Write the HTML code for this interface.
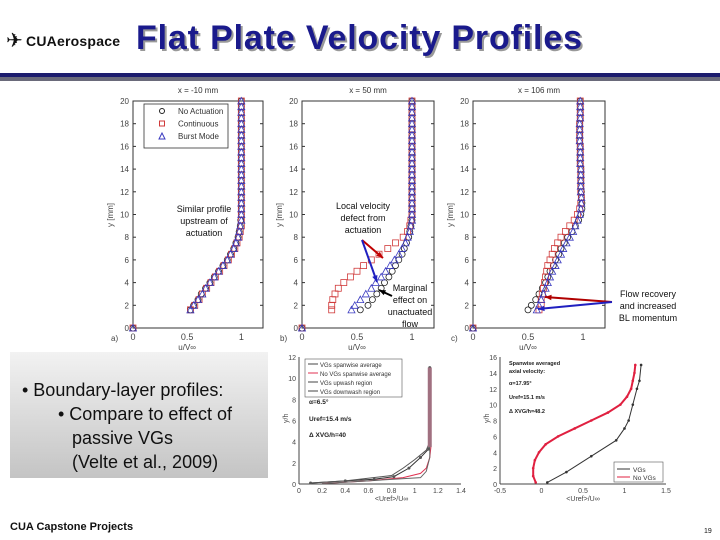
<!DOCTYPE html>
<html><head><meta charset="utf-8"><style>
html,body{margin:0;padding:0;background:#fff;}
svg{display:block;font-family:"Liberation Sans",sans-serif;}
</style></head><body>
<svg id="s" width="720" height="540" viewBox="0 0 720 540" xmlns="http://www.w3.org/2000/svg">
<defs><linearGradient id="g1" x1="0" y1="0" x2="0" y2="1"><stop offset="0" stop-color="#f2f2f2"/><stop offset="1" stop-color="#c4c4c4"/></linearGradient></defs>
<g>
<text x="6" y="47" font-size="20" fill="#111">✈</text>
<text x="26" y="46" font-size="14" font-weight="bold" fill="#111" textLength="94">CUAerospace</text>
<text x="138" y="51" font-size="34" font-weight="bold" fill="#999" textLength="446">Flat Plate Velocity Profiles</text>
<text x="136" y="49" font-size="34" font-weight="bold" fill="#1a1a8c" textLength="446">Flat Plate Velocity Profiles</text>
<rect x="0" y="73" width="720" height="4" fill="#1c1c6e"/>
<rect x="0" y="77" width="720" height="4" fill="#6a6a7a"/>
</g>
<rect x="10" y="352" width="258" height="126" fill="url(#g1)"/>
<g font-size="18" fill="#111">
<text x="22" y="396">• Boundary-layer profiles:</text>
<text x="58" y="420">• Compare to effect of</text>
<text x="72" y="444">passive VGs</text>
<text x="72" y="468">(Velte et al., 2009)</text>
</g>
<text x="10" y="530" font-size="11" font-weight="bold" fill="#111">CUA Capstone Projects</text>
<text x="704" y="533" font-size="7" fill="#111">19</text>
<g id="charts"></g>
</svg>
<script>
// Top profiles: shared y (mm)
const yTop=[1.6,2,2.5,3,3.5,4,4.5,5,5.5,6,6.5,7,7.5,8,8.5,9,9.5,10,10.5,11,11.5,12,12.5,13,13.5,14,14.5,15,15.5,16,16.5,17,17.5,18,18.5,19,19.5,20];
const aNoAct=[.53,.56,.6,.63,.67,.71,.75,.79,.83,.87,.9,.93,.95,.97,.98,.99,.995,1,1,1,1,1,1,1,1,1,1,1,1,1,1,1,1,1,1,1,1,1];
const aCont=[.53,.57,.61,.64,.68,.72,.76,.8,.84,.88,.91,.94,.96,.98,.99,1,1,1,1,1,1,1,1,1,1,1,1,1,1,1,1,1,1,1,1,1,1,1];
const aBurst=[.53,.56,.6,.64,.67,.71,.75,.79,.83,.87,.9,.93,.95,.97,.98,.99,1,1,1,1,1,1,1,1,1,1,1,1,1,1,1,1,1,1,1,1,1,1];
const bNoAct=[.53,.6,.64,.68,.72,.75,.79,.82,.85,.88,.91,.93,.95,.97,.98,.99,1,1,1,1,1,1,1,1,1,1,1,1,1,1,1,1,1,1,1,1,1,1];
const bCont=[.27,.27,.28,.3,.33,.38,.44,.5,.56,.63,.7,.78,.85,.92,.96,.98,.99,1,1,1,1,1,1,1,1,1,1,1,1,1,1,1,1,1,1,1,1,1];
const bBurst=[.45,.48,.53,.58,.63,.67,.72,.76,.8,.84,.88,.91,.94,.96,.98,.99,1,1,1,1,1,1,1,1,1,1,1,1,1,1,1,1,1,1,1,1,1,1];
const cNoAct=[.5,.53,.57,.6,.63,.66,.68,.7,.73,.75,.78,.8,.83,.86,.9,.93,.96,.98,.99,.99,.985,.985,.98,.98,.98,.98,.975,.975,.975,.975,.97,.97,.97,.97,.975,.975,.975,.975];
const cCont=[.6,.62,.62,.63,.64,.65,.66,.67,.68,.7,.72,.74,.77,.8,.84,.88,.92,.95,.97,.98,.985,.98,.98,.98,.98,.98,.975,.975,.975,.975,.97,.97,.97,.97,.975,.975,.975,.975];
const cBurst=[.58,.6,.62,.64,.66,.68,.7,.72,.75,.77,.8,.82,.85,.88,.91,.93,.95,.97,.98,.985,.985,.98,.98,.98,.98,.98,.975,.975,.975,.975,.97,.97,.97,.97,.975,.975,.975,.975];
const topYTicks=[0,2,4,6,8,10,12,14,16,18,20];
const topXTicks=[0,0.5,1];
const topTitles=["x = -10 mm","x = 50 mm","x = 106 mm"];
// Bottom-left (Velte) data
const blXTicks=[0,0.2,0.4,0.6,0.8,1,1.2,1.4];
const blYTicks=[0,2,4,6,8,10,12];
const vgAvgU=[0.1,0.4,0.65,0.82,0.95,1.05,1.12,1.13,1.13,1.13,1.13];
const vgAvgY=[0.1,0.3,0.45,0.7,1.5,2.5,3.3,4,6,9,11];
const noVgU=[0.2,0.6,0.9,1.05,1.1,1.13,1.14,1.14,1.14,1.14];
const noVgY=[0.05,0.3,0.6,1,1.5,2.5,3.5,6,9,11];
const upU=[0.1,0.4,0.8,0.9,1.0,1.1,1.13,1.13];
const upY=[0.1,0.3,0.8,1.5,2.3,3.2,4,11];
const dnU=[0.2,0.6,1.05,1.1,1.13,1.13,1.13];
const dnY=[0.05,0.3,0.6,1.2,2.5,4,11];
// Bottom-right data
const brXTicks=[-0.5,0,0.5,1,1.5];
const brYTicks=[0,2,4,6,8,10,12,14,16];
const brVgU=[0.07,0.3,0.6,0.9,1.0,1.05,1.1,1.15,1.18,1.2];
const brVgY=[0.2,1.5,3.5,5.5,7,8,10,12,13,15];
const brNoU=[-0.07,-0.1,-0.1,-0.08,-0.03,0.05,0.2,0.4,0.6,0.8,0.95,1.03,1.08,1.1,1.12,1.13];
const brNoY=[0.2,1,2,3,4,5,6,7,8,9,10,11,12,13,14,15];

const NS="http://www.w3.org/2000/svg";
const root=document.getElementById('charts');
function mk(tag,attrs,parent){const e=document.createElementNS(NS,tag);for(const k in attrs)e.setAttribute(k,attrs[k]);(parent||root).appendChild(e);return e;}
function lin(d0,d1,r0,r1){return v=>r0+(v-d0)/(d1-d0)*(r1-r0);}

const panels=[{x0:133,x1:263,s:[aNoAct,aCont,aBurst],lab:"a)"},{x0:302,x1:434,s:[bNoAct,bCont,bBurst],lab:"b)"},{x0:473,x1:605,s:[cNoAct,cCont,cBurst],lab:"c)"}];
const cols=["#222","#d03a3a","#3a3ac0"];
panels.forEach((p,pi)=>{
  const g=mk('g',{});
  
  
  const X=lin(0,1.2,p.x0,p.x1),Y=lin(0,20,328,101);
  const fr=mk('rect',{x:p.x0,y:101,width:p.x1-p.x0,height:227,fill:'none',stroke:'#333','stroke-width':1},g);
  
  topYTicks.forEach(t=>{
    const tl=mk('text',{x:p.x0-4,y:Y(t)+3,'font-size':8,fill:'#444','text-anchor':'end'},g);tl.textContent=t;
    
    mk('line',{x1:p.x0,x2:p.x0+3,y1:Y(t),y2:Y(t),stroke:'#333'},g);
    mk('line',{x1:p.x1,x2:p.x1-3,y1:Y(t),y2:Y(t),stroke:'#333'},g);
  });
  topXTicks.forEach(t=>{
    const tl=mk('text',{x:X(t),y:340,'font-size':9,fill:'#444','text-anchor':'middle'},g);tl.textContent=t;
    
  });
  const tt=mk('text',{x:(p.x0+p.x1)/2,y:93,'font-size':8,fill:'#333','text-anchor':'middle'},g);tt.textContent=topTitles[pi];
  
  const xl=mk('text',{x:X(0.5),y:350,'font-size':8,fill:'#444','text-anchor':'middle'},g);xl.textContent="u/V∞";
  
  const yl=mk('text',{x:0,y:0,'font-size':8,fill:'#444','text-anchor':'middle',transform:`translate(${p.x0-20},215) rotate(-90)`},g);yl.textContent="y [mm]";
  
  const pl=mk('text',{x:p.x0-22,y:341,'font-size':8,fill:'#444'},g);pl.textContent=p.lab;
  
  p.s.forEach((ser,si)=>{
    const pts=[[0,0]].concat(ser.map((u,i)=>[u,yTop[i]]));
    pts.forEach(([u,y])=>{
      const cx=X(u),cy=Y(y);let m;
      if(si===0)m=mk('circle',{cx,cy,r:3,fill:'none',stroke:cols[0],'stroke-width':0.8},g);
      else if(si===1)m=mk('rect',{x:cx-3,y:cy-3,width:6,height:6,fill:'none',stroke:cols[1],'stroke-width':0.8},g);
      else m=mk('polygon',{points:`${cx},${cy-3.5} ${cx-3.5},${cy+3} ${cx+3.5},${cy+3}`,fill:'none',stroke:cols[2],'stroke-width':0.8},g);
      
    });
  });
});
// legend in panel a
{
  const g=mk('g',{});
  mk('rect',{x:144,y:104,width:84,height:44,fill:'#fff',stroke:'#333','stroke-width':0.8},g);
  const names=["No Actuation","Continuous","Burst Mode"];
  names.forEach((n,i)=>{
    const y=114+i*12.5,cx=162;
    if(i===0)mk('circle',{cx,cy:y-3,r:2.5,fill:'none',stroke:cols[0]},g);
    else if(i===1)mk('rect',{x:cx-2.5,y:y-5.5,width:5,height:5,fill:'none',stroke:cols[1]},g);
    else mk('polygon',{points:`${cx},${y-6} ${cx-3},${y} ${cx+3},${y}`,fill:'none',stroke:cols[2]},g);
    const t=mk('text',{x:178,y,'font-size':8,fill:'#333'},g);t.textContent=n;
    
  });
}
// annotations
function txt(x,y,s,size,name,anchor){const t=mk('text',{x,y,'font-size':size||8,fill:'#111','text-anchor':anchor||'middle'});t.textContent=s;return t;}
function arrow(x1,y1,x2,y2,c,name){const g=mk('g',{});
  mk('line',{x1,y1,x2,y2,stroke:c,'stroke-width':2},g);const a=Math.atan2(y2-y1,x2-x1),L=7;
  mk('polygon',{points:`${x2},${y2} ${x2-L*Math.cos(a-0.4)},${y2-L*Math.sin(a-0.4)} ${x2-L*Math.cos(a+0.4)},${y2-L*Math.sin(a+0.4)}`,fill:c},g);}
txt(204,212,"Similar profile",9,'annotation-similar');txt(204,224,"upstream of",9,'annotation-similar');txt(204,236,"actuation",9,'annotation-similar');
txt(363,209,"Local velocity",9,'annotation-defect');txt(363,221,"defect from",9,'annotation-defect');txt(363,233,"actuation",9,'annotation-defect');
arrow(362,240,383,258,'#c00000','arrow-red-defect');arrow(362,240,377,282,'#2020c0','arrow-blue-defect');
txt(410,291,"Marginal",9,'annotation-marginal');txt(410,303,"effect on",9,'annotation-marginal');txt(410,315,"unactuated",9,'annotation-marginal');txt(410,327,"flow",9,'annotation-marginal');
arrow(392,296,379,290,'#000','arrow-black-marginal');
txt(648,297,"Flow recovery",9,'annotation-recovery');txt(648,309,"and increased",9,'annotation-recovery');txt(648,321,"BL momentum",9,'annotation-recovery');
arrow(612,302,545,297,'#b00000','arrow-red-recovery');arrow(612,302,538,309,'#2020c0','arrow-blue-recovery');

// Bottom-left chart
{
  const g=mk('g',{});
  const x0=299,x1=461,X=lin(0,1.4,x0,x1),Y=lin(0,12,484,357);
  mk('line',{x1:x0,y1:357,x2:x0,y2:484,stroke:'#444'},g);mk('line',{x1:x0,y1:484,x2:x1,y2:484,stroke:'#444'},g);
  blXTicks.forEach(t=>{const l=mk('text',{x:X(t),y:493,'font-size':7,fill:'#444','text-anchor':'middle'},g);l.textContent=t;});
  blYTicks.forEach(t=>{const l=mk('text',{x:x0-3,y:Y(t)+3,'font-size':7,fill:'#444','text-anchor':'end'},g);l.textContent=t;});
  const xt=mk('text',{x:X(0.8),y:501,'font-size':7,fill:'#444','text-anchor':'middle'},g);xt.textContent="<Uref>/U∞";
  const yt=mk('text',{x:0,y:0,'font-size':7,fill:'#444',transform:`translate(288,423) rotate(-90)`},g);yt.textContent="y/h";
  [[vgAvgU,vgAvgY,'#333'],[noVgU,noVgY,'#e03050'],[upU,upY,'#555'],[dnU,dnY,'#666']].forEach(([u,y,c],k)=>{
    const pts=u.map((v,i)=>X(v)+','+Y(y[i])).join(' ');
    const pl=mk('polyline',{points:pts,fill:'none',stroke:c,'stroke-width':1},g);
    
  });
  // dense marker column near 1.13
  vgAvgY.forEach((y,i)=>{const m=mk('circle',{cx:X(vgAvgU[i]),cy:Y(y),r:1.5,fill:'#555'},g);});
  mk('rect',{x:X(1.13)-2,y:Y(11),width:4,height:Y(3.5)-Y(11),fill:'#a07080'},g);
  mk('rect',{x:305,y:359,width:97,height:38,fill:'#fff',stroke:'#555','stroke-width':0.6},g);
  ["VGs spanwise average","No VGs spanwise average","VGs upwash region","VGs downwash region"].forEach((n,i)=>{
    mk('line',{x1:308,x2:318,y1:364+i*9,y2:364+i*9,stroke:i===1?'#e03050':'#444'},g);
    const t=mk('text',{x:320,y:367+i*9,'font-size':6,fill:'#333'},g);t.textContent=n;
  });
  [["α=6.5°",404],["Uref=15.4 m/s",421],["Δ XVG/h=40",437]].forEach(([s,y])=>{const t=mk('text',{x:309,y,'font-size':6.5,'font-weight':'bold',fill:'#222'},g);t.textContent=s;});
}
// Bottom-right chart
{
  const g=mk('g',{});
  const x0=500,x1=666,X=lin(-0.5,1.5,x0,x1),Y=lin(0,16,484,357);
  mk('line',{x1:x0,y1:357,x2:x0,y2:484,stroke:'#444'},g);mk('line',{x1:x0,y1:484,x2:x1,y2:484,stroke:'#444'},g);
  brXTicks.forEach(t=>{const l=mk('text',{x:X(t),y:493,'font-size':7,fill:'#444','text-anchor':'middle'},g);l.textContent=t;});
  brYTicks.forEach(t=>{const l=mk('text',{x:x0-3,y:Y(t)+3,'font-size':7,fill:'#444','text-anchor':'end'},g);l.textContent=t;});
  const xt=mk('text',{x:X(0.5),y:501,'font-size':7,fill:'#444','text-anchor':'middle'},g);xt.textContent="<Uref>/U∞";
  const yt=mk('text',{x:0,y:0,'font-size':7,fill:'#444',transform:`translate(489,423) rotate(-90)`},g);yt.textContent="y/h";
  [[brVgU,brVgY,'#333'],[brNoU,brNoY,'#e02040']].forEach(([u,y,c],k)=>{
    const pl=mk('polyline',{points:u.map((v,i)=>X(v)+','+Y(y[i])).join(' '),fill:'none',stroke:c,'stroke-width':k?2:1},g);
    
    u.forEach((v,i)=>{const m=mk('circle',{cx:X(v),cy:Y(y[i]),r:1.3,fill:c},g);});
  });
  mk('rect',{x:614,y:462,width:49,height:20,fill:'#fff',stroke:'#555','stroke-width':0.6},g);
  [["VGs",'#333'],["No VGs",'#e02040']].forEach(([n,c],i)=>{mk('line',{x1:617,x2:630,y1:469+i*8,y2:469+i*8,stroke:c},g);
    const t=mk('text',{x:633,y:472+i*8,'font-size':6.5,fill:'#333'},g);t.textContent=n;});
  [["Spanwise averaged",365],["axial velocity:",373],["α=17.95°",385],["Uref=15.1 m/s",399],["Δ XVG/h=48.2",413]].forEach(([s,y])=>{const t=mk('text',{x:509,y,'font-size':5.5,'font-weight':'bold',fill:'#222'},g);t.textContent=s;});
}
</script>
</body></html>
